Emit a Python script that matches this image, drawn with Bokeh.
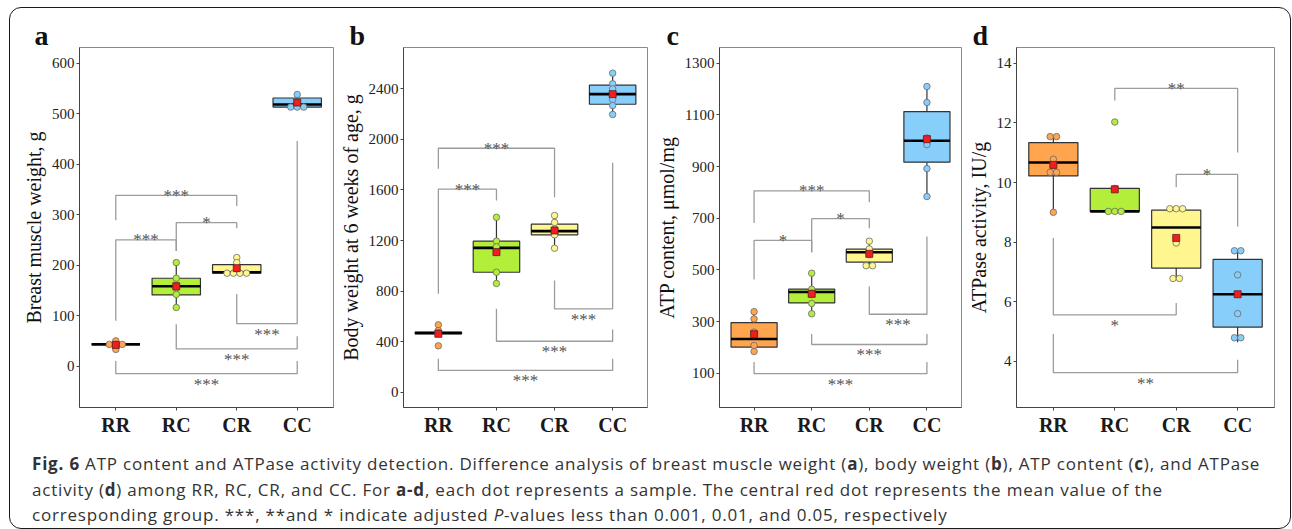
import numpy as np
from bokeh.plotting import figure
from bokeh.models import Range1d, FixedTicker, Div
from bokeh.layouts import row, column
from bokeh.embed import file_html
from bokeh.resources import INLINE
from bokeh.core.properties import value

# ---------------- data ----------------
groups = ["RR", "RC", "CR", "CC"]
group_colors = ["#FFA54F", "#B3EE3A", "#FFF68F", "#87CEFA"]

# panel a: breast muscle weight
a_points = [[50, 43, 43, 43, 38, 33], [205, 174, 160, 155, 142, 116],
            [215, 205, 184, 184, 184, 184], [538, 522, 518, 513, 513, 513]]
a_q1 = [43, 141, 184, 513]
a_med = [43, 158, 186, 518]
a_q3 = [43, 174, 201, 531]
a_lo = [43, 116, 184, 513]
a_hi = [43, 205, 215, 538]
a_mean = [42, 158, 194, 522]
a_br_g1 = ["RR", "RC", "RR", "CR", "RC", "RR"]
a_br_g2 = ["CR", "CR", "RC", "CC", "CC", "CC"]
a_br_y = [338, 284, 250, 84, 34, -15]
a_br_y1 = [289, 228, 90, 143, 83, 10]
a_br_y2 = [317, 273, 228, 446, 59, 10]
a_br_lab = ["***", "*", "***", "***", "***", "***"]
a_br_side = ["above", "above", "above", "below", "below", "below"]

# panel b: body weight
b_points = [[533, 488, 470, 465, 367], [1384, 1195, 1150, 1110, 949, 860],
            [1398, 1343, 1290, 1255, 1245, 1139], [2524, 2440, 2400, 2316, 2268, 2197]]
b_q1 = [462, 949, 1245, 2278]
b_med = [468, 1142, 1274, 2358]
b_q3 = [476, 1195, 1329, 2429]
b_lo = [462, 860, 1139, 2197]
b_hi = [476, 1384, 1398, 2524]
b_mean = [462, 1108, 1279, 2358]
b_br_g1 = ["RR", "RR", "CR", "RC", "RR"]
b_br_g2 = ["CR", "RC", "CC", "CC", "CC"]
b_br_y = [1930, 1606, 660, 403, 172]
b_br_y1 = [1767, 778, 884, 660, 264]
b_br_y2 = [1543, 1517, 1815, 496, 264]
b_br_lab = ["***", "***", "***", "***", "***"]
b_br_side = ["above", "above", "below", "below", "below"]

# panel c: ATP content
c_points = [[338, 310, 259, 249, 207, 184], [487, 425, 410, 405, 370, 330],
            [611, 581, 560, 516, 516], [1210, 1148, 1011, 985, 892, 784]]
c_q1 = [201, 372, 530, 917]
c_med = [232, 414, 568, 1000]
c_q3 = [296, 425, 580, 1113]
c_lo = [184, 330, 516, 784]
c_hi = [339, 487, 611, 1210]
c_mean = [251, 407, 562, 1006]
c_br_g1 = ["RR", "RC", "RR", "CR", "RC", "RR"]
c_br_g2 = ["CR", "CR", "RC", "CC", "CC", "CC"]
c_br_y = [806, 698, 614, 328, 211, 98]
c_br_y1 = [681, 568, 463, 436, 252, 143]
c_br_y2 = [762, 661, 568, 629, 252, 143]
c_br_lab = ["***", "*", "*", "***", "***", "***"]
c_br_side = ["above", "above", "above", "below", "below", "below"]

# panel d: ATPase activity
d_points = [[11.54, 11.54, 10.78, 10.34, 10.34, 9.0], [12.03, 9.8, 9.03, 9.03, 9.03],
            [9.12, 9.12, 9.12, 7.97, 6.78, 6.78], [7.71, 7.71, 6.9, 5.6, 4.79, 4.79]]
d_q1 = [10.22, 9.03, 7.13, 5.15]
d_med = [10.67, 9.03, 8.49, 6.25]
d_q3 = [11.34, 9.80, 9.07, 7.42]
d_lo = [9.0, 9.03, 6.78, 4.64]
d_hi = [11.54, 9.80, 9.12, 7.71]
d_mean = [10.59, 9.77, 8.14, 6.25]
d_br_g1 = ["RC", "CR", "RR", "RR"]
d_br_g2 = ["CC", "CC", "CR", "CC"]
d_br_y = [13.16, 10.27, 5.56, 3.62]
d_br_y1 = [12.75, 9.84, 8.14, 4.92]
d_br_y2 = [11.01, 8.52, 5.96, 4.05]
d_br_lab = ["**", "*", "*", "**"]
d_br_side = ["above", "above", "below", "below"]

a_ticks = [0, 100, 200, 300, 400, 500, 600]
b_ticks = [0, 400, 800, 1200, 1600, 2000, 2400]
c_ticks = [100, 300, 500, 700, 900, 1100, 1300]
d_ticks = [4, 6, 8, 10, 12, 14]

caption_lines = [
    '<b>Fig. 6</b> ATP content and ATPase activity detection. Difference analysis of breast muscle weight (<b>a</b>), body weight (<b>b</b>), ATP content (<b>c</b>), and ATPase',
    'activity (<b>d</b>) among RR, RC, CR, and CC. For <b>a-d</b>, each dot represents a sample. The central red dot represents the mean value of the',
    'corresponding group. ***, **and * indicate adjusted <i>P</i>-values less than 0.001, 0.01, and 0.05, respectively',
]

# ---------------- drawing ----------------
SERIF = "Liberation Serif"
FIG_H = 440
MB_TOP, MB_BOT = 47, 33
BOX_HALF = 0.4
DOT = 6.5


def stack_offsets(vals):
    offs = [0.0] * len(vals)
    seen = {}
    for i, v in enumerate(vals):
        seen.setdefault(round(v, 6), []).append(i)
    for k, idx in seen.items():
        n = len(idx)
        for j, i in enumerate(idx):
            offs[i] = j - (n - 1) / 2.0
    return offs


def make_panel(letter, ylabel, yr, ticks, pts, q1, med, q3, lo, hi, means,
               g1, g2, by, by1, by2, blab, bside, fw, mbl, mbr, toff):
    p = figure(width=fw, height=FIG_H, x_range=Range1d(0.4, 4.6), y_range=Range1d(*yr),
               output_backend="svg", toolbar_location=None,
               min_border_left=mbl, min_border_right=mbr,
               min_border_top=MB_TOP, min_border_bottom=MB_BOT,
               background_fill_color="white", border_fill_color="white")
    p.xgrid.visible = False
    p.ygrid.visible = False
    p.outline_line_color = "#8a8a8a"
    p.outline_line_width = 1

    frame_w = fw - mbl - mbr
    du_per_px = 4.2 / frame_w
    xs = np.arange(1, 5)
    gx = {g: i + 1 for i, g in enumerate(groups)}

    # brackets
    bxs, bys = [], []
    for a, b, yy, y1, y2 in zip(g1, g2, by, by1, by2):
        x1, x2 = gx[a], gx[b]
        bxs.append([x1, x1, x2, x2])
        bys.append([y1, yy, yy, y2])
    p.multi_line(bxs, bys, line_color="#9c9c9c", line_width=1.3)
    for a, b, yy, lab, side in zip(g1, g2, by, blab, bside):
        xm = (gx[a] + gx[b]) / 2.0
        if side == "above":
            p.text(x=[xm], y=[yy], text=[lab], text_align="center", text_baseline="alphabetic",
                   text_font=value(SERIF), text_font_size="17px", text_color="#555555", y_offset=0)
        else:
            p.text(x=[xm], y=[yy], text=[lab], text_align="center", text_baseline="top",
                   text_font=value(SERIF), text_font_size="17px", text_color="#555555", y_offset=1)

    # whiskers
    p.segment(x0=xs, x1=xs, y0=q3, y1=hi, line_color="#333333", line_width=1.2)
    p.segment(x0=xs, x1=xs, y0=q1, y1=lo, line_color="#333333", line_width=1.2)
    # boxes
    p.quad(left=xs - BOX_HALF, right=xs + BOX_HALF, bottom=q1, top=q3,
           fill_color=group_colors, line_color="#333333", line_width=1.2)
    p.segment(x0=xs - BOX_HALF, x1=xs + BOX_HALF, y0=med, y1=med, line_color="black", line_width=2.6)

    # dots
    for i, vals in enumerate(pts):
        offs = stack_offsets(vals)
        dx = [i + 1 + o * DOT * du_per_px for o in offs]
        p.scatter(x=dx, y=vals, marker="circle", size=DOT, fill_color=group_colors[i],
                  line_color="#6a6a6a", line_width=0.8)
    # means
    p.scatter(x=xs, y=means, marker="square", size=7, fill_color="#F01E1E",
              line_color="#5a2020", line_width=0.8)

    # axes
    p.xaxis.ticker = FixedTicker(ticks=[1, 2, 3, 4])
    p.xaxis.major_label_overrides = {i + 1: g for i, g in enumerate(groups)}
    p.yaxis.ticker = FixedTicker(ticks=ticks)
    for ax in (p.xaxis, p.yaxis):
        ax.axis_line_color = "#444444"
        ax.major_tick_line_color = "#444444"
        ax.minor_tick_line_color = None
        ax.major_tick_in = 0
        ax.major_tick_out = 3
    p.xaxis.major_label_text_font = SERIF
    p.xaxis.major_label_text_font_size = "20px"
    p.xaxis.major_label_text_font_style = "bold"
    p.xaxis.major_label_text_color = "#1a1a1a"
    p.xaxis.major_label_standoff = 3
    p.yaxis.major_label_text_font = SERIF
    p.yaxis.major_label_text_font_size = "15px"
    p.yaxis.major_label_text_color = "#222222"
    p.yaxis.major_label_standoff = 2
    p.yaxis.axis_label = ylabel
    p.yaxis.axis_label_text_font = SERIF
    p.yaxis.axis_label_text_font_size = "20px"
    p.yaxis.axis_label_text_font_style = "normal"
    p.yaxis.axis_label_text_color = "#111111"
    p.yaxis.axis_label_standoff = 4

    p.title.text = letter
    p.title.text_font = SERIF
    p.title.text_font_size = "28px"
    p.title.text_font_style = "bold"
    p.title.text_color = "#111111"
    p.title.align = "left"
    p.title.offset = toff
    p.title.standoff = -7
    return p


pa = make_panel("a", "Breast muscle weight, g", (-82, 631), a_ticks, a_points,
                a_q1, a_med, a_q3, a_lo, a_hi, a_mean,
                a_br_g1, a_br_g2, a_br_y, a_br_y1, a_br_y2, a_br_lab, a_br_side,
                336, 79, 3, -45)
pb = make_panel("b", "Body weight at 6 weeks of age, g", (-121, 2727), b_ticks, b_points,
                b_q1, b_med, b_q3, b_lo, b_hi, b_mean,
                b_br_g1, b_br_g2, b_br_y, b_br_y1, b_br_y2, b_br_lab, b_br_side,
                316, 65, 5, -54)
pc = make_panel("c", "ATP content, \u03bcmol/mg", (-33, 1361), c_ticks, c_points,
                c_q1, c_med, c_q3, c_lo, c_hi, c_mean,
                c_br_g1, c_br_g2, c_br_y, c_br_y1, c_br_y2, c_br_lab, c_br_side,
                312, 62, 3, -53)
pd_ = make_panel("d", "ATPase activity, IU/g", (2.45, 14.53), d_ticks, d_points,
                 d_q1, d_med, d_q3, d_lo, d_hi, d_mean,
                 d_br_g1, d_br_g2, d_br_y, d_br_y1, d_br_y2, d_br_lab, d_br_side,
                 318, 48, 8, -44)

frame_box = ('<div style="position:fixed;left:9px;top:7px;width:1282px;height:522px;'
             'border:1.6px solid #1a1a1a;border-radius:12px;pointer-events:none;"></div>')
cap_html = ('<div style="font-family:\'Open Sans\';font-size:17px;letter-spacing:0.8px;'
            'line-height:25.5px;color:#333333;white-space:nowrap;padding:6px 0 0 27px;">'
            + "<br>".join(caption_lines) + "</div>" + frame_box)
cap = Div(text=cap_html, width=1282, height=85)

layout = column(row(pa, pb, pc, pd_), cap)

open("out.html", "w").write(file_html(layout, INLINE))
